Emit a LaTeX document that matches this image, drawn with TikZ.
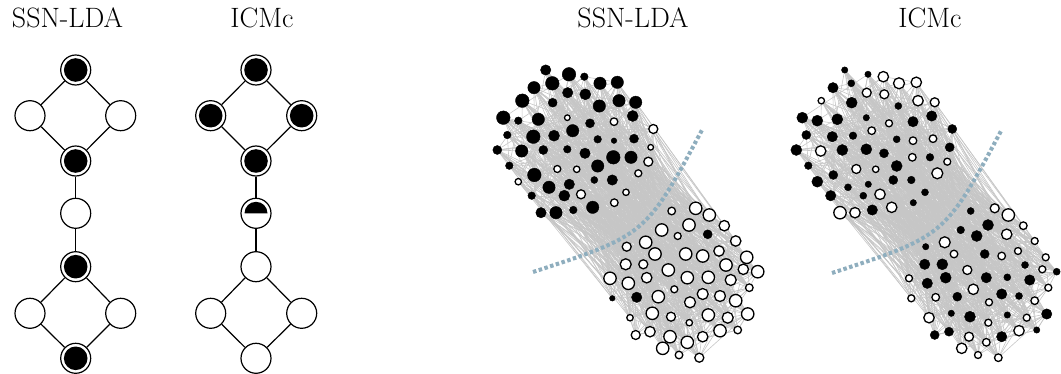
\documentclass[tikz,border=0pt]{standalone}
\usetikzlibrary{backgrounds}
\definecolor{edgegray}{RGB}{198,198,198}
\definecolor{cutblue}{RGB}{143,174,190}
\tikzset{
	gnode/.style={circle, draw, line width=1.2pt, minimum size=30pt, inner sep=0pt, fill=white},
	gobs/.style={gnode, path picture={\fill[black] (path picture bounding box.center) circle (11.8pt);}},
	ghalf/.style={gnode, path picture={\fill[black] ([xshift=-11.5pt]path picture bounding box.center) arc[start angle=180, end angle=0, radius=11.5pt] -- cycle;}},
	gedge/.style={line width=1.2pt},
	nb/.style={circle, inner sep=0pt, fill=black, draw=black, line width=0.4pt},
	nw/.style={circle, inner sep=0pt, fill=white, draw=black, line width=1.3pt},
	netedge/.style={edgegray, line width=0.6pt},
	cutline/.style={cutblue, line width=4pt, dash pattern=on 3.5pt off 2.5pt},
	title/.style={anchor=base, font=\fontsize{28}{34}\selectfont}
}
\begin{document}
\begin{tikzpicture}[x=1pt, y=-1pt]
	\useasboundingbox (0,0) rectangle (1061,374);
	%Titles
	\node[title] (tssn) at (67.5,28) {SSN-LDA};
	\node[title] (ticm) at (262,28) {ICMc};
	\node[title] (tssnnet) at (633,28) {SSN-LDA};
	\node[title] (ticmnet) at (930,28) {ICMc};
	%Small graph SSN-LDA
	\node[gobs] (ssn1) at (75.7,70) {};
	\node[gnode] (ssn2) at (30,115.7) {};
	\node[gnode] (ssn3) at (120.7,115.7) {};
	\node[gobs] (ssn4) at (75.7,161) {};
	\node[gnode] (ssn5) at (75.7,213.3) {};
	\node[gobs] (ssn6) at (75.7,266.7) {};
	\node[gnode] (ssn7) at (30,313.3) {};
	\node[gnode] (ssn8) at (120.7,313.3) {};
	\node[gobs] (ssn9) at (75.7,358.3) {};
	%Small graph ICMc
	\node[gobs] (icm1) at (256,70) {};
	\node[gobs] (icm2) at (210.7,115.7) {};
	\node[gobs] (icm3) at (301.7,115.7) {};
	\node[gobs] (icm4) at (256,161) {};
	\node[ghalf] (icm5) at (256,213.3) {};
	\node[gnode] (icm6) at (256,266.7) {};
	\node[gnode] (icm7) at (210.7,313.3) {};
	\node[gnode] (icm8) at (301.7,313.3) {};
	\node[gnode] (icm9) at (256,358.3) {};
	\foreach \g in {ssn,icm} {
		\draw[gedge] (\g1) -- (\g2) (\g1) -- (\g3) (\g2) -- (\g4) (\g3) -- (\g4);
		\draw[gedge] (\g4) -- (\g5) -- (\g6);
		\draw[gedge] (\g6) -- (\g7) (\g6) -- (\g8) (\g7) -- (\g9) (\g8) -- (\g9);
	}
	%Networks: position, then radius and fill for SSN-LDA (a) and ICMc (b)
	\foreach \i/\x/\y/\ra/\fa/\rb/\fb in {
		1/545.7/70.0/5.7/b/3.7/b, 2/569.0/74.3/7.3/b/3.7/b, 3/584.3/76.7/4.3/b/5.7/w,
		4/600.0/83.3/6.7/b/6/w, 5/617.3/82.3/6.7/b/5.7/w, 6/552.3/83.3/7.3/b/4/b,
		7/534.0/87.7/6.7/b/5.7/b, 8/567.7/92.7/5.7/b/5/w, 9/585.3/94.3/6/b/5/w,
		10/619.0/100.7/6.7/b/5.7/w, 11/635.7/102.3/6.7/b/5/w, 12/522.3/100.7/7.3/b/3.7/w,
		13/552.7/102.7/5/b/6/b, 14/599.3/106.0/6.7/b/4/b, 15/503.3/117.7/7.3/b/6/b,
		16/518.3/120.7/4.3/b/6/b, 17/538.3/119.3/6.7/b/6/b, 18/567.3/117.7/3.3/w/3.7/b,
		19/590.0/123.3/5/b/4/w, 20/614.0/121.7/4.3/w/5.7/b, 21/632.7/116.0/6/b/5.7/b,
		22/653.3/129.0/5/w/5/b, 23/507.3/135.0/4.3/b/5/b, 24/533.3/136.7/7.3/b/5.7/b,
		25/554.0/135.7/6/b/4.3/b, 26/572.7/130.7/6.7/b/4.3/w, 27/597.7/139.3/4.3/b/4/b,
		28/614.0/140.7/3.3/b/4.3/w, 29/634.0/138.7/5/b/4.3/w, 30/650.7/147.3/3.3/w/5/b,
		31/497.3/150.0/5/b/6/b, 32/521.7/151.0/6.7/b/5.7/w, 33/543.3/150.0/5/b/6/b,
		34/567.3/149.3/4.3/b/6/b, 35/585.0/153.3/5.7/b/5/b, 36/613.3/157.3/7.3/b/4.3/w,
		37/631.0/157.3/6.7/b/4.3/b, 38/648.3/161.7/5/w/4/w, 39/509.3/165.7/4.3/b/4.3/b,
		40/557.3/169.0/4/w/5/w, 41/576.7/169.3/3.7/w/3.7/w, 42/597.7/166.0/6.7/b/6/b,
		43/534.3/175.0/7.3/b/5/b, 44/518.3/181.7/3.7/w/6/b, 45/594.3/180.0/4/b/5/b,
		46/612.3/180.0/5.7/b/4.3/b, 47/638.3/173.3/4/w/6/w, 48/549.0/187.3/6.7/b/4/b,
		49/569.3/184.3/5.7/b/3.7/b, 50/531.7/195.7/4.3/b/5.7/b, 51/564.3/195.7/6/b/4/b,
		52/581.0/194.3/5/w/5.7/w, 53/626.0/192.3/3.7/w/4/b, 54/541.0/212.7/5.7/b/6.7/w,
		55/556.0/212.7/6.7/b/5.7/w, 56/573.3/210.0/4.3/b/5.7/b, 57/592.7/207.3/6.7/b/5.7/w,
		58/614.3/202.7/4.3/w/3.7/b, 59/671.7/211.0/4.3/w/4/b, 60/695.7/208.3/6.7/w/5/w,
		61/709.3/215.0/6.7/w/6.7/w, 62/724.3/225.7/5.7/w/4.3/w, 63/689.0/225.0/6.7/w/6/b,
		64/661.7/230.0/6.7/w/4.3/b, 65/677.7/236.0/4/w/6/b, 66/707.7/234.3/5/b/5.7/w,
		67/735.7/241.0/5.7/w/4/w, 68/626.7/246.7/5/w/3.7/b, 69/645.7/242.3/6.7/w/6/w,
		70/655.0/254.0/6.7/w/4.3/w, 71/685.7/254.0/6.7/w/5/b, 72/702.7/256.0/6.7/w/4.3/w,
		73/719.0/251.0/5.7/w/4/w, 74/746.7/257.3/6.7/w/4/w, 75/625.7/264.3/6/w/5.7/b,
		76/643.3/264.3/5/w/6/b, 77/668.3/270.0/6.7/w/5/w, 78/726.0/265.0/6.7/w/4/b,
		79/743.3/269.3/5.7/w/4/w, 80/757.7/271.7/6.7/w/4/b, 81/610.0/278.3/6.7/w/4/w,
		82/628.3/283.3/6.7/w/5.7/b, 83/646.7/277.7/5.7/w/6/b, 84/687.3/277.7/6.7/w/5.7/b,
		85/708.3/277.3/6.7/w/4/b, 86/730.7/280.0/6/w/5.7/b, 87/749.3/287.7/4.3/w/4/w,
		88/612.3/298.3/3.3/b/4/w, 89/636.7/297.3/5.7/b/4.3/w, 90/658.3/296.7/6.7/w/5/b,
		91/674.3/289.3/4/w/5.7/w, 92/702.7/294.0/6/w/5.7/b, 93/720.0/296.0/6/w/4/b,
		94/735.7/300.7/6.7/w/4.3/w, 95/690.0/302.3/6/w/4/w, 96/630.0/317.7/3.7/w/5.7/w,
		97/652.3/313.3/6.7/w/3.7/b, 98/671.0/316.7/5/w/6/b, 99/708.3/315.0/6.7/w/3.7/b,
		100/727.7/317.7/6/w/4/w, 101/747.7/314.0/6.7/w/5.7/b, 102/689.3/322.7/3.7/w/4/w,
		103/635.7/335.0/5/w/5/b, 104/650.0/331.7/5.7/w/5/b, 105/670.0/336.7/6.7/w/5/w,
		106/687.3/342.3/6.7/w/4.3/w, 107/702.7/336.7/5.7/w/5.7/b, 108/720.0/330.7/6.7/w/5.7/w,
		109/737.7/330.0/4.3/w/3.7/b, 110/662.7/348.3/6.7/w/5.7/w, 111/679.0/355.0/4.3/w/4/w,
		112/699.3/357.7/5/w/4.3/w} {
		\pgfmathsetmacro{\xb}{\x+299}
		\node[n\fa, minimum size={2*\ra pt-1pt}] (a\i) at (\x,\y) {};
		\node[n\fb, minimum size={2*\rb pt-1pt}] (b\i) at (\xb,\y) {};
	}
	%Edges behind the nodes, same graph for both
	\begin{pgfonlayer}{background}
		\pgfmathsetseed{42}
		\foreach \i in {1,...,112} {
			\foreach \k in {1,...,9} {
				\pgfmathtruncatemacro{\lo}{((\k<5)==(\i<59)) ? 1 : 59}
				\pgfmathtruncatemacro{\hi}{(\lo==1) ? 58 : 112}
				\pgfmathrandominteger{\j}{\lo}{\hi}
				\draw[netedge] (a\i) -- (a\j);
				\draw[netedge] (b\i) -- (b\j);
			}
		}
		%Cut between the two groups
		\coordinate (cutA1) at (533,272);
		\coordinate (cutA2) at (702,130);
		\coordinate (cutB1) at (832,273);
		\coordinate (cutB2) at (1001,131);
		\draw[cutline] (cutA1) .. controls (646,235) .. (cutA2);
		\draw[cutline] (cutB1) .. controls (945,236) .. (cutB2);
	\end{pgfonlayer}
\end{tikzpicture}
\end{document}
